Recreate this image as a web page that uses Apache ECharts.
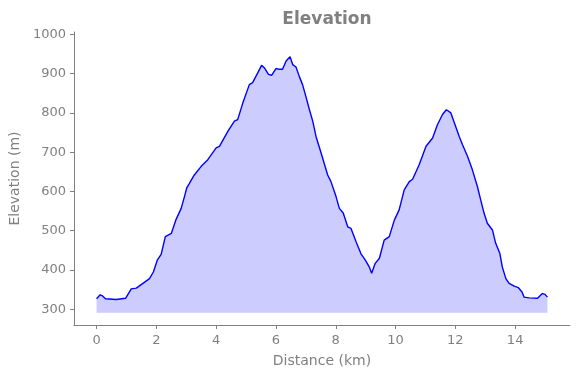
<!DOCTYPE html>
<html>
<head>
<meta charset="utf-8">
<script src="https://cdn.jsdelivr.net/npm/echarts@6/dist/echarts.min.js"></script>
<style>
  html, body { margin: 0; padding: 0; background: #fff; }
  #chart { width: 580px; height: 378px; }
</style>
</head>
<body>
<div id="chart"></div>
<script>
// distance (km) and elevation (m)
const distance = [
  0.00, 0.12, 0.20, 0.30, 0.66, 0.97, 1.16, 1.33, 1.55, 1.77, 1.90, 2.03, 2.16, 2.30, 2.50,
  2.66, 2.83, 2.94, 3.02, 3.10, 3.27, 3.50, 3.72, 4.00, 4.11, 4.39, 4.61, 4.72, 4.89, 5.11,
  5.22, 5.39, 5.52, 5.61, 5.75, 5.86, 6.00, 6.11, 6.22, 6.34, 6.47, 6.56, 6.67, 6.78, 6.89,
  7.00, 7.12, 7.23, 7.34, 7.51, 7.73, 7.84, 8.01, 8.12, 8.25, 8.40, 8.51, 8.68, 8.84, 8.99,
  9.12, 9.20, 9.32, 9.46, 9.62, 9.79, 9.96, 10.12, 10.29, 10.46, 10.57, 10.79, 11.02, 11.24,
  11.40, 11.57, 11.70, 11.85, 11.99, 12.13, 12.24, 12.41, 12.57, 12.74, 12.85, 12.96, 13.07,
  13.24, 13.35, 13.49, 13.57, 13.69, 13.80, 13.97, 14.11, 14.23, 14.30, 14.47, 14.75, 14.91,
  15.00, 15.08
];
const elevation = [
  327, 337, 334, 327, 325, 328, 352, 354, 366, 378, 395, 425, 440, 485, 493,
  529, 557, 587, 610, 620, 642, 664, 681, 711, 715, 753, 779, 783, 825, 872,
  877, 902, 921, 915, 898, 896, 913, 911, 911, 932, 943, 923, 917, 893, 872,
  842, 808, 779, 740, 698, 642, 625, 587, 557, 545, 510, 506, 472, 442, 425,
  408, 392, 417, 430, 476, 485, 527, 553, 604, 625, 631, 668, 715, 736,
  770, 796, 808, 800, 770, 740, 719, 689, 655, 612, 578, 545, 519,
  502, 468, 442, 408, 378, 366, 359, 355, 344, 331, 329, 328, 340,
  338, 331
];
const fillBase = 293;
const xTicks = [0, 2, 4, 6, 8, 10, 12, 14];
const yTicks = [300, 400, 500, 600, 700, 800, 900, 1000];

const gray = '#808080';
const font = 'DejaVu Sans';

const chart = echarts.init(document.getElementById('chart'));
const points = distance.map((d, i) => [d, elevation[i]]);

const option = {
  animation: false,
  title: {
    text: 'Elevation',
    left: 322,
    top: 6,
    textAlign: 'center',
    textStyle: { color: gray, fontFamily: font, fontWeight: 'bold', fontSize: 17 }
  },
  grid: { left: 74, right: 10, top: 32, bottom: 53, containLabel: false, outerBoundsMode: 'none' },
  xAxis: {
    type: 'value',
    min: -0.755,
    max: 15.835,
    name: 'Distance (km)',
    nameLocation: 'middle',
    nameGap: 29,
    nameTextStyle: { color: gray, fontFamily: font, fontSize: 14 },
    splitLine: { show: false },
    axisLine: { show: true, onZero: false, lineStyle: { color: gray, width: 1 } },
    axisTick: { show: true, customValues: xTicks, length: 4, lineStyle: { color: gray } },
    axisLabel: { customValues: xTicks, color: gray, fontFamily: font, fontSize: 13, margin: 9 }
  },
  yAxis: {
    type: 'value',
    min: 260,
    max: 1006,
    name: 'Elevation (m)',
    nameLocation: 'middle',
    nameGap: 51,
    nameTextStyle: { color: gray, fontFamily: font, fontSize: 14 },
    splitLine: { show: false },
    axisLine: { show: true, onZero: false, lineStyle: { color: gray, width: 1 } },
    axisTick: { show: true, customValues: yTicks, length: 4, lineStyle: { color: gray } },
    axisLabel: {
      customValues: yTicks, color: gray, fontFamily: font, fontSize: 13, margin: 8,
      formatter: (v) => String(v)
    }
  },
  series: [
    {
      type: 'line',
      data: points,
      showSymbol: false,
      silent: true,
      lineStyle: { color: '#0000ff', width: 1.4 },
      areaStyle: { color: '#ccccff', opacity: 1, origin: fillBase },
      z: 3
    },
    {
      type: 'line',
      data: [[distance[0], fillBase], [distance[distance.length - 1], fillBase]],
      showSymbol: false,
      silent: true,
      lineStyle: { color: '#b3b3ff', width: 1 },
      z: 2
    }
  ]
};
chart.setOption(option);
</script>
</body>
</html>
